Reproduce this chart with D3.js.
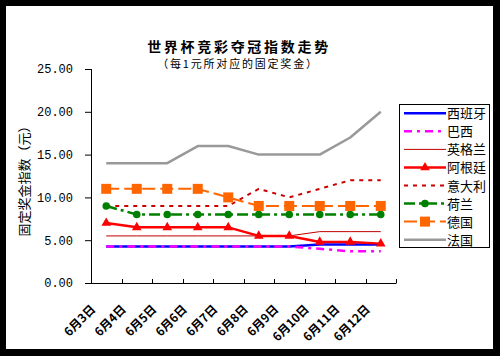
<!DOCTYPE html>
<html><head><meta charset="utf-8">
<script src="https://cdn.jsdelivr.net/npm/d3@7"></script>
<style>
body{margin:0;background:#000;}
svg{display:block;}
</style></head>
<body>
<script>
const categories = ["6月3日","6月4日","6月5日","6月6日","6月7日","6月8日","6月9日","6月10日","6月11日","6月12日"];
const spain       = [4.25,4.25,4.25,4.25,4.25,4.25,4.25,4.5,4.5,4.5];
const brazil      = [4.25,4.25,4.25,4.25,4.25,4.25,4.25,4,3.7,3.7];
const england     = [5.5,5.5,5.5,5.5,5.5,5.5,5.5,6,6,6];
const argentina   = [7,6.5,6.5,6.5,6.5,5.5,5.5,4.8,4.8,4.6];
const italy       = [9,9,9,9,9,11,10,11,12,12];
const netherlands = [9,8,8,8,8,8,8,8,8,8];
const germany     = [11,11,11,11,10,9,9,9,9,9];
const france      = [14,14,14,16,16,15,15,15,17,20];
const yTicks = [0,5,10,15,20,25];

const seriesNames = ["西班牙","巴西","英格兰","阿根廷","意大利","荷兰","德国","法国"];
const seriesData = [spain,brazil,england,argentina,italy,netherlands,germany,france];
const styles = [
  {color:"#0000ff", width:2.5, dash:null, marker:null},
  {color:"#ff00ff", width:2.5, dash:"8,5,3,5", marker:null},
  {color:"#c00000", width:1, dash:null, marker:null},
  {color:"#ff0000", width:2.5, dash:null, marker:"triangle"},
  {color:"#cc0000", width:2, dash:"4,5", marker:null},
  {color:"#008000", width:2.5, dash:"11,4,3,4", marker:"circle"},
  {color:"#ff6600", width:2, dash:"13,5", marker:"square"},
  {color:"#999999", width:2.5, dash:null, marker:null}
];
// draw order (bottom first)
const drawOrder = [7,4,2,0,1,3,5,6];

const W=500,H=356;
const svg = d3.select("body").append("svg").attr("width",W).attr("height",H);
svg.append("rect").attr("x",0).attr("y",0).attr("width",W).attr("height",H).attr("fill","#000");
svg.append("rect").attr("x",6).attr("y",6).attr("width",487).attr("height",343).attr("fill","#fff");

const x = d3.scaleBand().domain(categories).range([91,396]).padding(0);
const y = d3.scaleLinear().domain([0,25]).range([283,69]);
const cx = d => x(d)+x.bandwidth()/2;

// title
svg.append("text").attr("x",239).attr("y",52).attr("text-anchor","middle")
  .attr("font-family","'Noto Sans CJK SC'").attr("font-weight","bold").attr("font-size",14)
  .attr("letter-spacing","2.7px").text("世界杯竞彩夺冠指数走势");
svg.append("text").attr("x",238).attr("y",68).attr("text-anchor","middle")
  .attr("font-family","'Noto Sans CJK SC'").attr("font-size",11)
  .attr("letter-spacing","1.8px").text("（每1元所对应的固定奖金）");

// y axis title
svg.append("text").attr("transform","translate(29,178) rotate(-90)").attr("text-anchor","middle")
  .attr("font-family","'Noto Sans CJK SC'").attr("font-size",13).text("固定奖金指数（元）");

// axes
const yAxis = d3.axisLeft(y).tickValues(yTicks).tickFormat(d3.format(".2f")).tickSize(6).tickPadding(12);
const gy = svg.append("g").attr("transform","translate(91,0)").call(yAxis);
gy.select(".domain").attr("stroke","#000").attr("d","M0.5,69V283.5");
gy.selectAll("text").attr("font-family","'Liberation Mono'").attr("font-size",12).attr("fill","#000");

const xAxis = d3.axisBottom(x).tickSize(-4).tickFormat("");
const gx = svg.append("g").attr("transform","translate(0,283)").call(xAxis);
gx.select(".domain").attr("stroke","#000").attr("d","M91,0.5H396.5");
gx.selectAll(".tick").remove();
// ticks at band boundaries
const bounds = categories.map(c => x(c)+x.bandwidth());
gx.selectAll("line.bt").data(bounds).enter().append("line")
  .attr("x1",d=>Math.round(d)+0.5).attr("x2",d=>Math.round(d)+0.5).attr("y1",0).attr("y2",-4).attr("stroke","#000");

// x labels
svg.append("g").selectAll("text").data(categories).enter().append("text")
  .attr("transform",d=>`translate(${cx(d)-10},310) rotate(-45)`)
  .attr("text-anchor","end").attr("font-family","'Noto Sans CJK SC'").attr("font-weight","bold")
  .attr("font-size",12).text(d=>d);

// lines
const line = d3.line().x((d,i)=>cx(categories[i])).y(d=>y(d));
const gLines = svg.append("g");
function drawMarker(g, type, color, px, py, size){
  if(type==="triangle"){
    g.append("path").attr("d",d3.symbol(d3.symbolTriangle, size||40)()).attr("transform",`translate(${px},${py})`).attr("fill",color);
  } else if(type==="circle"){
    g.append("circle").attr("cx",px).attr("cy",py).attr("r",3.8).attr("fill",color);
  } else if(type==="square"){
    g.append("rect").attr("x",px-5).attr("y",py-5).attr("width",10).attr("height",10).attr("fill",color);
  }
}
drawOrder.forEach(k=>{
  const s = styles[k], data = seriesData[k];
  gLines.append("path").datum(data).attr("d",line).attr("fill","none")
    .attr("stroke",s.color).attr("stroke-width",s.width)
    .attr("stroke-dasharray",s.dash).attr("stroke-linejoin","round");
  if(s.marker){
    data.forEach((v,i)=>drawMarker(gLines,s.marker,s.color,cx(categories[i]),y(v)));
  }
});

// legend
const lg = svg.append("g");
lg.append("rect").attr("x",399.5).attr("y",104.5).attr("width",90).attr("height",143)
  .attr("fill","#fff").attr("stroke","#000");
seriesNames.forEach((n,i)=>{
  const s = styles[i], ly = 113.3 + i*18.05;
  lg.append("line").attr("x1",404).attr("x2",446).attr("y1",ly).attr("y2",ly)
    .attr("stroke",s.color).attr("stroke-width",s.width).attr("stroke-dasharray",s.dash);
  if(s.marker) drawMarker(lg,s.marker,s.color,425,ly,40);
  lg.append("text").attr("x",447).attr("y",ly+5).attr("font-family","'Noto Sans CJK SC'")
    .attr("font-size",13).text(n);
});
</script>
</body></html>
